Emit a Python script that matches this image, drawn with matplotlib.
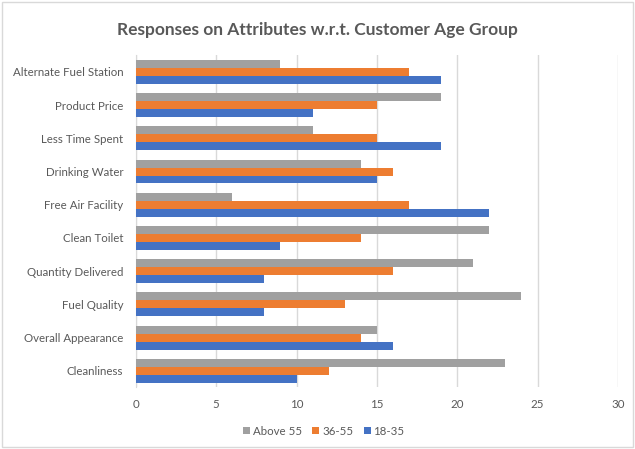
import numpy as np
import matplotlib.pyplot as plt
from matplotlib.patches import Rectangle

# Categories listed bottom to top (as drawn by barh)
categories = ['Cleanliness', 'Overall Appearance', 'Fuel Quality', 'Quantity Delivered',
              'Clean Toilet', 'Free Air Facility', 'Drinking Water', 'Less Time Spent',
              'Product Price', 'Alternate Fuel Station']
age_18_35 = [10, 16, 8, 8, 9, 22, 15, 19, 11, 19]
age_36_55 = [12, 14, 13, 16, 14, 17, 16, 15, 15, 17]
above_55 = [23, 15, 24, 21, 22, 6, 14, 11, 19, 9]

plt.rcParams['font.family'] = ['Lato', 'DejaVu Sans']
text_col = '#595959'

fig = plt.figure(figsize=(6.35, 4.49), dpi=100)
ax = fig.add_axes([0.214, 0.137, 0.759, 0.740])

y = np.arange(len(categories))
h = 0.24
ax.barh(y - h, age_18_35, height=h, color='#4472C4', label='18-35', zorder=3)
ax.barh(y, age_36_55, height=h, color='#ED7D31', label='36-55', zorder=3)
ax.barh(y + h, above_55, height=h, color='#A0A0A0', label='Above 55', zorder=3)

ax.set_xlim(0, 30)
ax.set_ylim(-0.5, len(categories) - 0.5)
ax.set_xticks(range(0, 31, 5))
ax.set_yticks(y)
ax.set_yticklabels(categories)
ax.tick_params(axis='both', length=0, labelsize=8.3, colors=text_col)
ax.tick_params(axis='x', pad=8)
ax.tick_params(axis='y', pad=9)
ax.grid(axis='x', color='#D9D9D9', linewidth=1, zorder=0)
for s in ['top', 'right', 'bottom']:
    ax.spines[s].set_visible(False)
ax.spines['left'].set_color('#D9D9D9')

fig.suptitle('Responses on Attributes w.r.t. Customer Age Group', x=0.5, y=0.952,
             fontsize=12.5, fontweight='bold', color=text_col)

handles, labels = ax.get_legend_handles_labels()
ax.legend(handles[::-1], labels[::-1], loc='center', bbox_to_anchor=(0.51, 0.04),
          bbox_transform=fig.transFigure, ncol=3, frameon=False, fontsize=8.3,
          handlelength=0.6, handleheight=0.6, handletextpad=0.25, columnspacing=0.9,
          labelcolor=text_col)

fig.patches.append(Rectangle((0.003, 0.004), 0.994, 0.992, transform=fig.transFigure,
                             fill=False, edgecolor='#D9D9D9', linewidth=1))

fig.savefig('out.png', dpi=100)
